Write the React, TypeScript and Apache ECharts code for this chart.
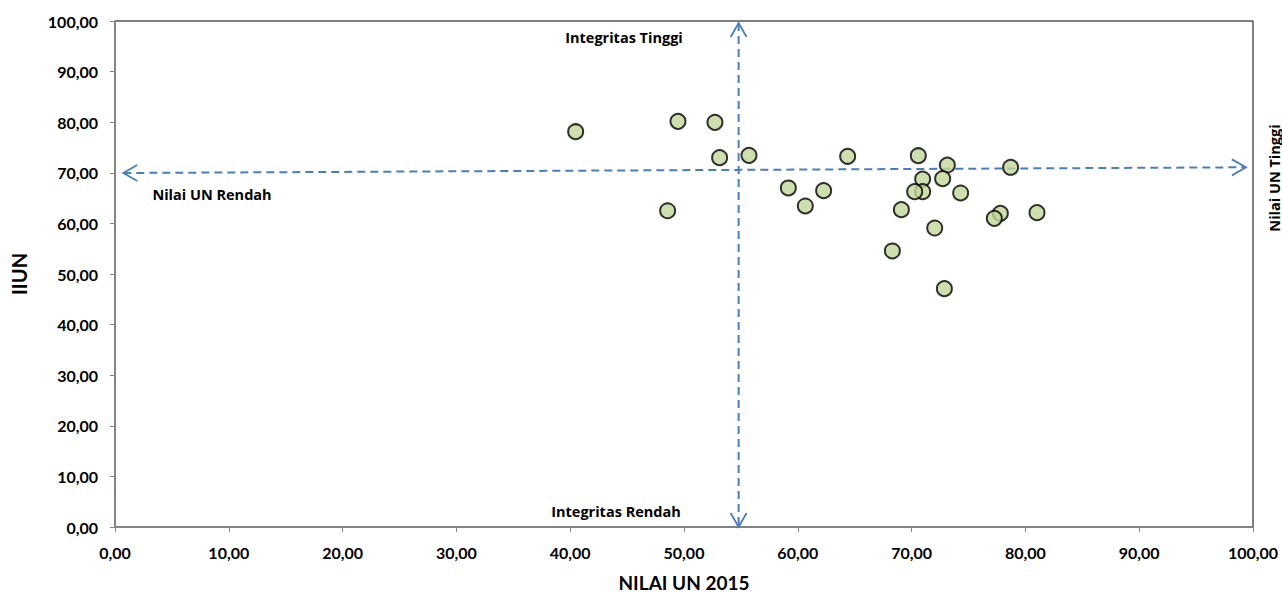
import React, { useEffect, useRef } from "react";
import * as echarts from "echarts";

// NILAI UN 2015 (x) and IIUN (y) for each school
const nilaiUN = [40.48, 49.47, 52.72, 53.13, 55.71, 48.56, 59.17, 62.27, 60.66, 64.38, 70.59, 73.14, 78.7, 70.97, 72.73, 70.97, 70.27, 74.31, 69.1, 77.8, 77.27, 81.02, 72.03, 68.31, 72.88];
const iiun = [78.12, 80.17, 79.97, 72.99, 73.45, 62.5, 67.0, 66.47, 63.44, 73.26, 73.38, 71.54, 71.09, 68.77, 68.84, 66.27, 66.27, 66.01, 62.71, 62.0, 61.0, 62.12, 59.09, 54.55, 47.1];

// quadrant divider arrows (data coordinates)
const vArrow = [[54.8, 99.6], [54.8, 0]];
const hArrow = [[0.73, 69.96], [99.38, 71.09]];

const quadrantLabels = ["Integritas Tinggi", "Integritas Rendah", "Nilai UN Rendah", "Nilai UN Tinggi"];

const FONT = "Lato";
const LABEL_FONT = "Open Sans";
const BLUE = "#4a7ebb";

function fmt(v: number) {
  return v.toFixed(2).replace(".", ",");
}

export default function App() {
  const ref = useRef<HTMLDivElement>(null);
  useEffect(() => {
    if (!ref.current) return;
    const chart = echarts.init(ref.current, null, { renderer: "svg" });
    const data = nilaiUN.map((x, i) => [x, iiun[i]]);
    chart.setOption({
      animation: false,
      backgroundColor: "#ffffff",
      grid: {
        left: 115,
        right: 29,
        top: 21,
        bottom: 68,
        containLabel: false,
        outerBoundsMode: "none",
        show: true,
        borderColor: "#000000",
        borderWidth: 1,
        backgroundColor: "transparent",
      },
      xAxis: {
        type: "value",
        min: 0,
        max: 100,
        interval: 10,
        name: "NILAI UN 2015",
        nameLocation: "middle",
        nameGap: 46,
        nameTextStyle: { fontFamily: FONT, fontWeight: "bold", fontSize: 19, color: "#000" },
        axisLine: { show: true, lineStyle: { color: "#868686", width: 1.5 } },
        axisTick: { show: true, length: 5, lineStyle: { color: "#868686" } },
        axisLabel: { formatter: fmt, fontFamily: FONT, fontWeight: "bold", fontSize: 16, color: "#000", margin: 17 },
        splitLine: { show: false },
      },
      yAxis: {
        type: "value",
        min: 0,
        max: 100,
        interval: 10,
        name: "IIUN",
        nameLocation: "middle",
        nameRotate: 90,
        nameGap: 86,
        nameTextStyle: { fontFamily: FONT, fontWeight: "bold", fontSize: 20, color: "#000" },
        axisLine: { show: true, lineStyle: { color: "#868686", width: 1.5 } },
        axisTick: { show: true, length: 5, lineStyle: { color: "#868686" } },
        axisLabel: { formatter: fmt, fontFamily: FONT, fontWeight: "bold", fontSize: 16, color: "#000", margin: 17 },
        splitLine: { show: false },
      },
      series: [
        {
          type: "scatter",
          data,
          symbol: "circle",
          symbolSize: 15,
          z: 5,
          itemStyle: { color: "#c3d69b", borderColor: "#000000", borderWidth: 2 },
        },
      ],
    });

    const px = (p: number[]) => chart.convertToPixel({ gridIndex: 0 }, p) as number[];
    const arrowEls = (pts: number[][]) => {
      const a = px(pts[0]);
      const b = px(pts[1]);
      const els: any[] = [
        {
          type: "line",
          shape: { x1: a[0], y1: a[1], x2: b[0], y2: b[1] },
          style: { stroke: BLUE, lineWidth: 2, lineDash: [8, 5] },
          z: 3,
        },
      ];
      const chevron = (tip: number[], from: number[]) => {
        const dx = tip[0] - from[0];
        const dy = tip[1] - from[1];
        const len = Math.hypot(dx, dy);
        const ux = dx / len;
        const uy = dy / len;
        const back = 14;
        const side = 8;
        return {
          type: "polyline",
          shape: {
            points: [
              [tip[0] - ux * back - uy * side, tip[1] - uy * back + ux * side],
              tip,
              [tip[0] - ux * back + uy * side, tip[1] - uy * back - ux * side],
            ],
          },
          style: { stroke: BLUE, lineWidth: 1.8, fill: null },
          z: 3,
        };
      };
      els.push(chevron(a, b));
      els.push(chevron(b, a));
      return els;
    };

    const labelStyle = { fontFamily: LABEL_FONT, fontWeight: "bold", fontSize: 14.5, fill: "#000" };
    chart.setOption({
      graphic: [
        ...arrowEls(vArrow),
        ...arrowEls(hArrow),
        { type: "text", x: 624, y: 37, style: { ...labelStyle, text: quadrantLabels[0], align: "center", verticalAlign: "middle" } },
        { type: "text", x: 616, y: 511, style: { ...labelStyle, text: quadrantLabels[1], align: "center", verticalAlign: "middle" } },
        { type: "text", x: 212, y: 194, style: { ...labelStyle, text: quadrantLabels[2], align: "center", verticalAlign: "middle" } },
        { type: "text", x: 1274, y: 178, rotation: Math.PI / 2, style: { ...labelStyle, text: quadrantLabels[3], align: "center", verticalAlign: "middle" } },
      ],
    });

    return () => chart.dispose();
  }, []);

  return <div ref={ref} style={{ position: "fixed", left: 0, top: 0, width: 1282, height: 595 }} />;
}
